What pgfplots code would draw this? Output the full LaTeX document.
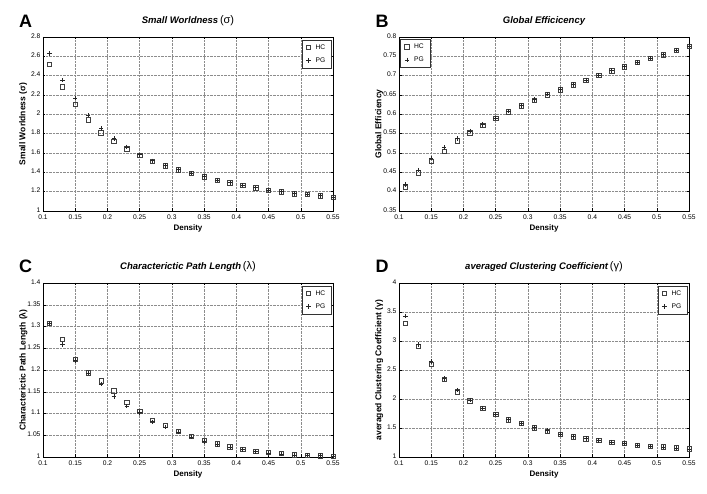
\documentclass[border=0pt]{standalone}
\usepackage{pgfplots}
\pgfplotsset{compat=1.18}
\usepackage{pgfplotstable}
\usepackage{fontspec}
\setmainfont{Liberation Sans}

\pgfplotstableread{
x hc pg
0.11 2.515 2.630
0.13 2.285 2.352
0.15 2.105 2.170
0.17 1.945 1.990
0.19 1.810 1.852
0.21 1.723 1.748
0.23 1.645 1.664
0.25 1.577 1.582
0.27 1.517 1.520
0.29 1.469 1.471
0.31 1.428 1.430
0.33 1.390 1.391
0.35 1.352 1.355
0.37 1.317 1.319
0.39 1.290 1.292
0.41 1.266 1.266
0.43 1.238 1.240
0.45 1.217 1.219
0.47 1.200 1.201
0.49 1.179 1.180
0.51 1.174 1.174
0.53 1.159 1.160
0.55 1.141 1.141
}\tabA

\pgfplotstableread{
x hc pg
0.11 0.411 0.419
0.13 0.449 0.456
0.15 0.478 0.487
0.17 0.505 0.514
0.19 0.532 0.537
0.21 0.552 0.557
0.23 0.571 0.574
0.25 0.589 0.590
0.27 0.607 0.608
0.29 0.622 0.623
0.31 0.637 0.638
0.33 0.651 0.652
0.35 0.663 0.664
0.37 0.676 0.677
0.39 0.688 0.689
0.41 0.701 0.701
0.43 0.713 0.713
0.45 0.723 0.723
0.47 0.734 0.734
0.49 0.745 0.745
0.51 0.754 0.754
0.53 0.766 0.766
0.55 0.776 0.776
}\tabB

\pgfplotstableread{
x hc pg
0.11 1.308 1.307
0.13 1.271 1.259
0.15 1.225 1.222
0.17 1.194 1.193
0.19 1.175 1.168
0.21 1.152 1.139
0.23 1.126 1.117
0.25 1.105 1.102
0.27 1.085 1.081
0.29 1.073 1.069
0.31 1.059 1.057
0.33 1.047 1.046
0.35 1.039 1.036
0.37 1.030 1.029
0.39 1.023 1.023
0.41 1.018 1.017
0.43 1.013 1.012
0.45 1.011 1.008
0.47 1.008 1.007
0.49 1.005 1.005
0.51 1.004 1.004
0.53 1.003 1.003
0.55 1.002 1.002
}\tabC

\pgfplotstableread{
x hc pg
0.11 3.305 3.430
0.13 2.905 2.940
0.15 2.595 2.645
0.17 2.335 2.356
0.19 2.125 2.152
0.21 1.971 1.980
0.23 1.837 1.842
0.25 1.733 1.740
0.27 1.640 1.645
0.29 1.576 1.580
0.31 1.506 1.510
0.33 1.448 1.455
0.35 1.395 1.398
0.37 1.349 1.350
0.39 1.314 1.316
0.41 1.285 1.287
0.43 1.256 1.258
0.45 1.233 1.235
0.47 1.203 1.205
0.49 1.186 1.188
0.51 1.174 1.175
0.53 1.157 1.158
0.55 1.140 1.141
}\tabD

\pgfplotsset{
  panel/.style={
    width=290pt, height=174pt, scale only axis,
    xmin=0.1, xmax=0.55,
    xtick={0.1,0.15,0.2,0.25,0.3,0.35,0.4,0.45,0.5,0.55},
    xticklabels={0.1,0.15,0.2,0.25,0.3,0.35,0.4,0.45,0.5,0.55},
    grid=major,
    major grid style={densely dotted, black!45, line width=0.45pt},
    tick align=inside, major tick length=2.5pt,
    tick style={black, line width=0.4pt},
    axis line style={black, line width=0.6pt},
    ticklabel style={font=\fontsize{6.7}{7}\selectfont},
    xticklabel style={yshift=0pt},
    yticklabel style={xshift=1pt, yshift=1pt},
    /pgf/number format/assume math mode=true,
    xlabel={Density},
    xlabel style={font=\bfseries\fontsize{8}{9}\selectfont, at={(axis description cs:0.5,0)}, anchor=base, yshift=-20pt},
    ylabel style={font=\bfseries\fontsize{8.5}{9}\selectfont, at={(axis description cs:-0.068,0.5)}, anchor=center},
    title style={font=\bfseries\itshape\fontsize{9.5}{11}\selectfont, at={(axis description cs:0.5,1)}, anchor=base, yshift=7pt},
    legend style={font=\fontsize{6.7}{7}\selectfont, draw=black!80, line width=0.6pt, inner xsep=4pt, inner ysep=2.5pt, row sep=3pt, column sep=3pt, cells={anchor=west}},
    legend cell align=left,
  },
  hcstyle/.style={only marks, mark=square, mark size=2.2pt, mark options={draw=black!75, line width=0.6pt, fill=none}},
  pgstyle/.style={only marks, mark=+, mark size=2.2pt, mark options={draw=black!85, line width=0.6pt}},
}

\begin{document}
\begin{tikzpicture}
\useasboundingbox (0,0) rectangle (707pt,494pt);

% A
\begin{axis}[panel, at={(43pt,283pt)}, anchor=south west,
  ymin=1, ymax=2.8,
  ytick={1,1.2,1.4,1.6,1.8,2,2.2,2.4,2.6,2.8},
  yticklabels={1,1.2,1.4,1.6,1.8,2,2.2,2.4,2.6,2.8},
  title={Small Worldness{\upshape\mdseries\fontsize{11}{11}\selectfont\,(σ)}},
  ylabel={Small Worldness (σ)},
  legend style={at={(0.995,0.985)}, anchor=north east}]
\addplot[hcstyle] table[x=x,y=hc] {\tabA};
\addplot[pgstyle] table[x=x,y=pg] {\tabA};
\legend{HC,PG}
\end{axis}

% B
\begin{axis}[panel, at={(399pt,283pt)}, anchor=south west,
  ymin=0.35, ymax=0.8,
  ytick={0.35,0.4,0.45,0.5,0.55,0.6,0.65,0.7,0.75,0.8},
  yticklabels={0.35,0.4,0.45,0.5,0.55,0.6,0.65,0.7,0.75,0.8},
  title={Global Efficicency},
  ylabel={Global Efficiency},
  legend style={at={(0.005,0.99)}, anchor=north west}]
\addplot[hcstyle] table[x=x,y=hc] {\tabB};
\addplot[pgstyle] table[x=x,y=pg] {\tabB};
\legend{HC,PG}
\end{axis}

% C
\begin{axis}[panel, at={(43pt,37pt)}, anchor=south west,
  ymin=1, ymax=1.4,
  ytick={1,1.05,1.1,1.15,1.2,1.25,1.3,1.35,1.4},
  yticklabels={1,1.05,1.1,1.15,1.2,1.25,1.3,1.35,1.4},
  title={Characterictic Path Length{\upshape\mdseries\fontsize{11}{11}\selectfont\,(λ)}},
  ylabel={Characterictic Path Length (λ)},
  legend style={at={(0.995,0.985)}, anchor=north east}]
\addplot[hcstyle] table[x=x,y=hc] {\tabC};
\addplot[pgstyle] table[x=x,y=pg] {\tabC};
\legend{HC,PG}
\end{axis}

% D
\begin{axis}[panel, at={(399pt,37pt)}, anchor=south west,
  ymin=1, ymax=4,
  ytick={1,1.5,2,2.5,3,3.5,4},
  yticklabels={1,1.5,2,2.5,3,3.5,4},
  title={averaged Clustering Coefficient{\upshape\mdseries\fontsize{11}{11}\selectfont\,(γ)}},
  ylabel={averaged Clustering Coefficient (γ)},
  legend style={at={(0.995,0.985)}, anchor=north east}]
\addplot[hcstyle] table[x=x,y=hc] {\tabD};
\addplot[pgstyle] table[x=x,y=pg] {\tabD};
\legend{HC,PG}
\end{axis}

\node[font=\bfseries\fontsize{18}{18}\selectfont] at (25.5pt,473pt) {A};
\node[font=\bfseries\fontsize{18}{18}\selectfont] at (382pt,473pt) {B};
\node[font=\bfseries\fontsize{18}{18}\selectfont] at (25.5pt,228pt) {C};
\node[font=\bfseries\fontsize{18}{18}\selectfont] at (382pt,228pt) {D};
\end{tikzpicture}
\end{document}
